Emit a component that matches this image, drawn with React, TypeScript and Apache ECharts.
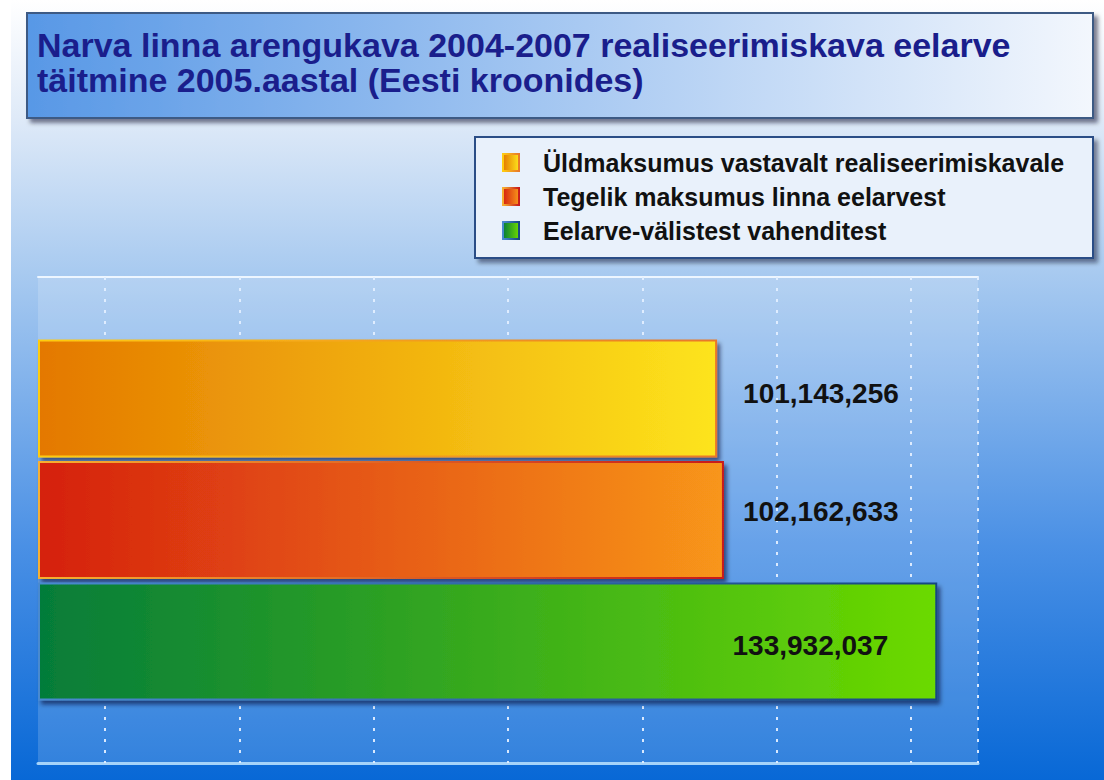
import React, { useEffect, useRef } from "react";
import * as echarts from "echarts";

const categories = ["2005"];
const seriesNames = [
  "Üldmaksumus vastavalt realiseerimiskavale",
  "Tegelik maksumus linna eelarvest",
  "Eelarve-välistest vahenditest",
];
const seriesValues = [101143256, 102162633, 133932037];
const gridLineValues = [10e6, 30e6, 50e6, 70e6, 90e6, 110e6, 130e6, 140e6];
const axisMin = 0;
const axisMax = 140e6;
const titleLines = [
  "Narva linna arengukava 2004-2007 realiseerimiskava eelarve",
  "täitmine 2005.aastal (Eesti kroonides)",
];

const FONT = '"Liberation Sans", Arial, sans-serif';

const lin = (a: string, b: string) => ({
  type: "linear", x: 0, y: 0, x2: 1, y2: 0,
  colorStops: [{ offset: 0, color: a }, { offset: 1, color: b }],
});

const barFills = [
  lin("#e47800", "#fde41c"),
  lin("#d5200f", "#f8961a"),
  lin("#057c3a", "#6cda00"),
];
const barBorders = [
  lin("#ffcc10", "#e8782a"),
  lin("#f7b030", "#c81a1a"),
  lin("#4a8ad0", "#174782"),
];
const labelCfg = [
  { position: "right", distance: 26, offset: [0, -5] },
  { position: "right", distance: 19, offset: [0, -9] },
  { position: "insideRight", distance: 49, offset: [0, 4] },
];

const fmt = (v: number) => String(v).replace(/\B(?=(\d{3})+(?!\d))/g, ",");

export default function App() {
  const ref = useRef<HTMLDivElement>(null);
  useEffect(() => {
    if (!ref.current) return;
    const chart = echarts.init(ref.current, null, { renderer: "svg" });
    const series: any[] = seriesNames.map((name, i) => ({
      type: "bar",
      name,
      data: [seriesValues[i]],
      barWidth: 118,
      barGap: "3%",
      z: 2,
      itemStyle: {
        color: barFills[i],
        borderColor: barBorders[i],
        borderWidth: 2,
        shadowBlur: 4,
        shadowColor: "rgba(0,0,40,0.55)",
        shadowOffsetX: 3,
        shadowOffsetY: 4,
      },
      label: {
        show: true,
        position: labelCfg[i].position,
        distance: labelCfg[i].distance,
        offset: labelCfg[i].offset,
        formatter: (p: any) => fmt(p.value),
        fontFamily: FONT,
        fontWeight: "bold",
        fontSize: 28,
        color: "#111",
      },
      ...(i === 0
        ? {
            markLine: {
              z: 1,
              silent: true,
              symbol: "none",
              label: { show: false },
              lineStyle: { color: "rgba(225,238,255,0.95)", width: 2, type: [3, 8] },
              emphasis: { disabled: true },
              data: gridLineValues.map((v) => ({ xAxis: v })),
            },
          }
        : {}),
    }));

    chart.setOption({
      animation: false,
      textStyle: { fontFamily: FONT },
      grid: {
        left: 38,
        right: 126,
        top: 277,
        bottom: 17,
        show: true,
        backgroundColor: "rgba(255,255,255,0.16)",
        borderWidth: 0,
      },
      xAxis: [
        {
          type: "value",
          min: axisMin,
          max: axisMax,
          position: "bottom",
          axisLine: { show: true, lineStyle: { color: "#a6d4fa", width: 3 } },
          axisTick: { show: false },
          axisLabel: { show: false },
          splitLine: { show: false },
        },
        {
          type: "value",
          min: axisMin,
          max: axisMax,
          position: "top",
          axisLine: { show: true, lineStyle: { color: "rgba(240,248,255,0.95)", width: 2 } },
          axisTick: { show: false },
          axisLabel: { show: false },
          splitLine: { show: false },
        },
      ],
      yAxis: {
        type: "category",
        data: categories,
        inverse: true,
        show: false,
      },
      legend: {
        orient: "vertical",
        left: 502,
        top: 150,
        padding: 0,
        itemWidth: 16,
        itemHeight: 17,
        itemGap: 9,
        icon: "rect",
        selectedMode: false,
        textStyle: {
          fontFamily: FONT,
          fontWeight: "bold",
          fontSize: 25,
          lineHeight: 25,
          color: "#111",
          padding: [0, 0, 0, 19],
        },
        data: seriesNames,
      },
      graphic: [
        {
          type: "rect",
          z: -10,
          silent: true,
          shape: { x: 11, y: 0, width: 1093, height: 780 },
          style: {
            fill: {
              type: "linear", x: 0, y: 0, x2: 0, y2: 1,
              colorStops: [
                { offset: 0, color: "#ffffff" },
                { offset: 0.15, color: "#dfeaf8" },
                { offset: 0.35, color: "#a8caf0" },
                { offset: 0.7, color: "#4a90e5" },
                { offset: 1, color: "#0868d6" },
              ],
            },
          },
        },
        {
          type: "rect",
          z: 10,
          silent: true,
          shape: { x: 27, y: 13, width: 1066, height: 105 },
          style: {
            fill: lin("#5898e6", "#f3f7fd"),
            stroke: "#3c5a84",
            lineWidth: 2,
            shadowBlur: 4,
            shadowColor: "rgba(0,0,30,0.5)",
            shadowOffsetX: 4,
            shadowOffsetY: 4,
          },
        },
        ...titleLines.map((t, i) => ({
          type: "text",
          z: 11,
          silent: true,
          x: 37,
          y: 45 + i * 35,
          style: {
            text: t,
            fill: "#1a1e8c",
            font: `bold 34px ${FONT}`,
            verticalAlign: "middle",
            align: "left",
          },
        })),
        {
          type: "rect",
          z: 3,
          silent: true,
          shape: { x: 475, y: 137, width: 618, height: 121 },
          style: {
            fill: "#e9f1fb",
            stroke: "#2c4e86",
            lineWidth: 2,
            shadowBlur: 4,
            shadowColor: "rgba(0,0,30,0.45)",
            shadowOffsetX: 4,
            shadowOffsetY: 4,
          },
        },
      ],
      series,
    });
    return () => chart.dispose();
  }, []);
  return (
    <div
      ref={ref}
      style={{ position: "absolute", left: 0, top: 0, width: 1104, height: 780 }}
    />
  );
}
